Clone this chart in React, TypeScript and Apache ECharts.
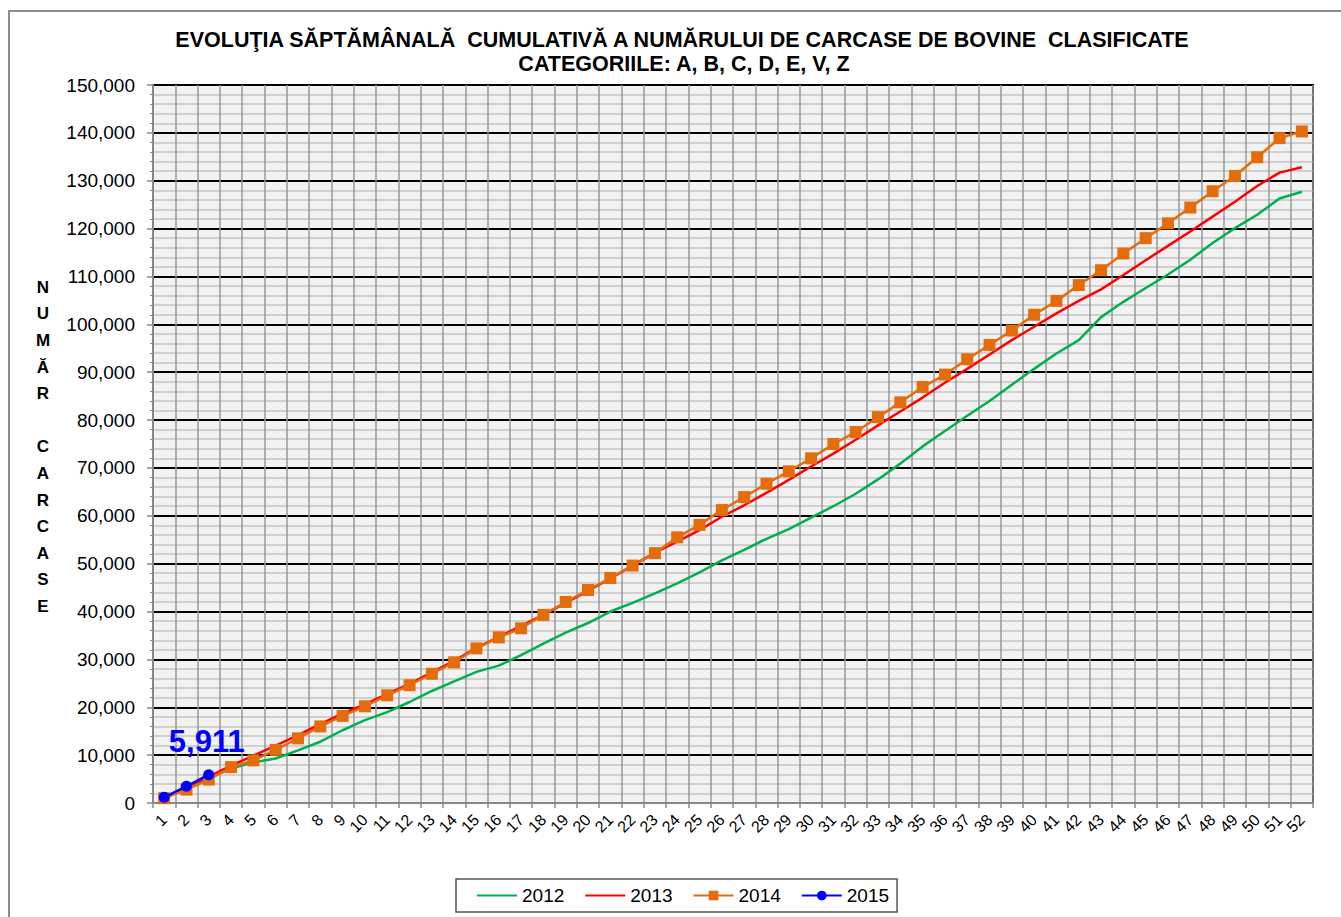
import React, { useEffect, useRef } from "react";
import * as echarts from "echarts";

const weeks = Array.from({ length: 52 }, (_, i) => String(i + 1));

const s2012 = [1100, 3000, 5200, 7200, 8500, 9300, 11000, 12800, 15200, 17300, 19000, 21100, 23400, 25400, 27400, 28700, 30900, 33300, 35600, 37600, 40000, 41800, 43800, 45900, 48200, 50700, 52900, 55200, 57200, 59600, 62000, 64600, 67600, 70900, 74500, 77700, 80900, 84000, 87400, 90700, 93900, 96700, 101500, 104700, 107600, 110400, 113500, 117000, 120100, 122900, 126300, 127700];

const s2013 = [1100, 3300, 5500, 7800, 9900, 12000, 14200, 16500, 18700, 20600, 22800, 24900, 27300, 29700, 32400, 34700, 37000, 39300, 41800, 44300, 46900, 49600, 52300, 54600, 57000, 59800, 62200, 64800, 67500, 70300, 73000, 75900, 78900, 81800, 84700, 87800, 90700, 93700, 96700, 99500, 102300, 104900, 107300, 110300, 113400, 116400, 119400, 122500, 125600, 128900, 131700, 132800];

const s2014 = [1000, 2800, 4900, 7500, 8900, 11100, 13500, 16000, 18200, 20200, 22500, 24600, 27000, 29400, 32300, 34600, 36500, 39300, 42000, 44500, 47000, 49600, 52200, 55500, 58100, 61200, 63900, 66700, 69300, 72000, 75000, 77500, 80600, 83700, 86900, 89500, 92700, 95700, 98700, 102000, 104900, 108200, 111300, 114800, 118000, 121100, 124400, 127800, 131000, 134900, 138900, 140300];

const s2015 = [1200, 3500, 5911];

const titleLine1 = "EVOLUŢIA SĂPTĂMÂNALĂ  CUMULATIVĂ A NUMĂRULUI DE CARCASE DE BOVINE  CLASIFICATE";
const titleLine2 = "CATEGORIILE: A, B, C, D, E, V, Z";
const yName = "NUMĂR CARCASE";

const FONT = "'Liberation Sans', Arial, sans-serif";

export default function App() {
  const ref = useRef<HTMLDivElement>(null);
  useEffect(() => {
    if (!ref.current) return;
    const chart = echarts.init(ref.current, undefined, { renderer: "svg" });
    const yLetters = yName.split("").map((c) => (c === " " ? "" : c)).join("\n");
    chart.setOption({
      animation: false,
      backgroundColor: "#ffffff",
      textStyle: { fontFamily: FONT },
      graphic: [
        {
          type: "rect",
          shape: { x: 9, y: 11, width: 1340, height: 912 },
          style: { fill: "none", stroke: "#8c8c8c", lineWidth: 2 },
          z: -10,
        },
        {
          type: "text",
          x: 682,
          y: 40,
          style: {
            text: titleLine1,
            font: `bold 21.5px ${FONT}`,
            fill: "#000",
            textAlign: "center",
            textVerticalAlign: "middle",
          },
        },
        {
          type: "text",
          x: 684,
          y: 64,
          style: {
            text: titleLine2,
            font: `bold 21.5px ${FONT}`,
            fill: "#000",
            textAlign: "center",
            textVerticalAlign: "middle",
          },
        },
        {
          type: "text",
          x: 43,
          y: 274,
          style: {
            text: yLetters,
            font: `bold 17px ${FONT}`,
            lineHeight: 26.6,
            fill: "#000",
            textAlign: "center",
            textVerticalAlign: "top",
          },
        },
      ],
      grid: {
        left: 153,
        top: 85,
        right: 28,
        bottom: 114,
        show: true,
        backgroundColor: "#f2f2f2",
        borderColor: "#000",
        borderWidth: 2,
      },
      legend: {
        top: 879,
        left: 456,
        itemWidth: 40,
        itemHeight: 12,
        itemGap: 20,
        borderColor: "#555",
        borderWidth: 1.5,
        padding: [7, 8, 7, 20],
        backgroundColor: "#fff",
        textStyle: { fontSize: 19, color: "#000", fontFamily: FONT },
        data: [
          { name: "2012", itemStyle: { opacity: 0 } },
          { name: "2013", itemStyle: { opacity: 0 } },
          { name: "2014" },
          { name: "2015" },
        ],
      },
      xAxis: {
        type: "category",
        data: weeks,
        boundaryGap: true,
        axisLine: { lineStyle: { color: "#888", width: 2 } },
        axisTick: { show: true, interval: 0, length: 5, lineStyle: { color: "#888", width: 1.5 } },
        axisLabel: {
          interval: 0,
          rotate: 45,
          fontSize: 16,
          color: "#000",
          fontFamily: FONT,
          margin: 14,
        },
        splitLine: { show: true, interval: 0, lineStyle: { color: "#9a9a9a", width: 1.5 } },
      },
      yAxis: {
        type: "value",
        min: 0,
        max: 150000,
        interval: 10000,
        axisLine: { show: true, lineStyle: { color: "#888", width: 2 } },
        axisTick: { show: true, inside: false, length: 6, lineStyle: { color: "#888", width: 1.5 } },
        minorTick: { show: true, splitNumber: 5, length: 3, lineStyle: { color: "#888" } },
        minorSplitLine: { show: true, lineStyle: { color: "#c4c4c4", width: 1.5 } },
        splitLine: { show: true, lineStyle: { color: "#000", width: 2 } },
        axisLabel: {
          fontSize: 19,
          color: "#000",
          fontFamily: FONT,
          margin: 18,
          formatter: (v: number) => v.toLocaleString("en-US"),
        },
      },
      series: [
        {
          name: "2012",
          type: "line",
          data: s2012,
          symbol: "none",
          lineStyle: { color: "#00b050", width: 2.5 },
          itemStyle: { color: "#00b050" },
          z: 2,
        },
        {
          name: "2013",
          type: "line",
          data: s2013,
          symbol: "none",
          lineStyle: { color: "#ff0000", width: 2.5 },
          itemStyle: { color: "#ff0000" },
          z: 3,
        },
        {
          name: "2014",
          type: "line",
          data: s2014,
          symbol: "rect",
          symbolSize: 12,
          lineStyle: { color: "#e46c0a", width: 2.5 },
          itemStyle: { color: "#e46c0a" },
          z: 4,
        },
        {
          name: "2015",
          type: "line",
          data: s2015.map((v, i) =>
            i === s2015.length - 1
              ? {
                  value: v,
                  label: {
                    show: true,
                    position: "top",
                    distance: 12,
                    offset: [-2, 0],
                    formatter: (p: any) => Number(p.value).toLocaleString("en-US"),
                    fontSize: 31,
                    fontWeight: "bold",
                    color: "#0000ff",
                    fontFamily: FONT,
                  },
                }
              : v
          ),
          symbol: "circle",
          symbolSize: 11,
          lineStyle: { color: "#0000ff", width: 2.5 },
          itemStyle: { color: "#0000ff" },
          z: 5,
        },
      ],
    });
    return () => chart.dispose();
  }, []);
  return (
    <div
      ref={ref}
      style={{ position: "fixed", left: 0, top: 0, width: 1341, height: 917 }}
    />
  );
}
